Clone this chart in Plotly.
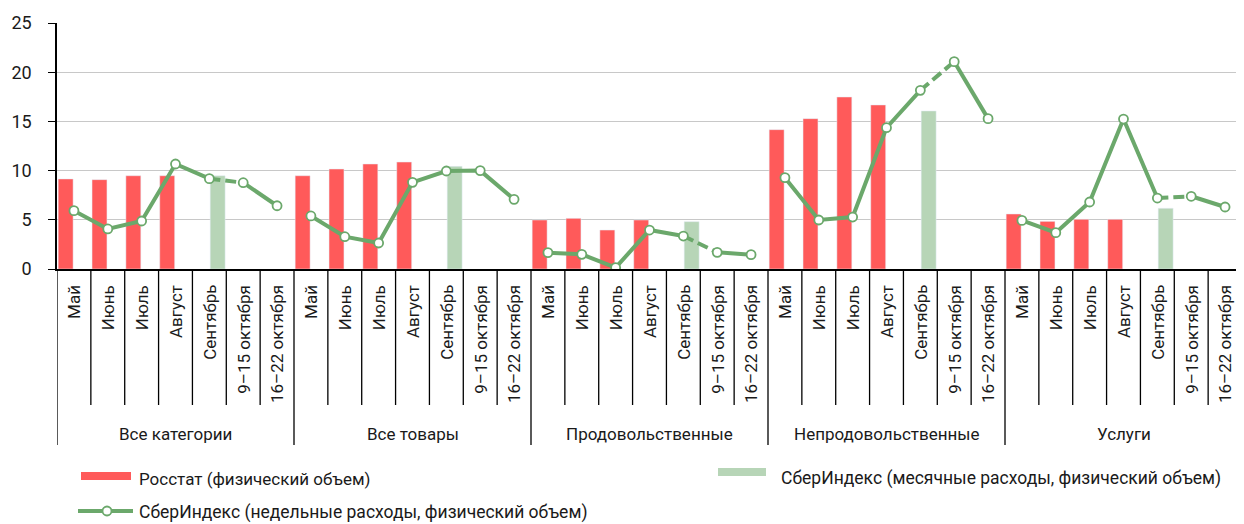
import plotly.graph_objects as go

# ---------------- data ----------------
groups = ["Все категории", "Все товары", "Продовольственные", "Непродовольственные", "Услуги"]
periods = ["Май", "Июнь", "Июль", "Август", "Сентябрь", "9–15 октября", "16–22 октября"]

rosstat = [
    [9.15, 9.08, 9.48, 9.48, None, None, None],
    [9.48, 10.16, 10.67, 10.87, None, None, None],
    [4.98, 5.15, 3.96, 4.98, None, None, None],
    [14.16, 15.28, 17.48, 16.67, None, None, None],
    [5.59, 4.84, 5.05, 5.05, None, None, None],
]
sber_monthly = [
    [None, None, None, None, 9.48, None, None],
    [None, None, None, None, 10.43, None, None],
    [None, None, None, None, 4.81, None, None],
    [None, None, None, None, 16.06, None, None],
    [None, None, None, None, 6.17, None, None],
]
sber_weekly = [
    [5.93, 4.07, 4.88, 10.67, 9.18, 8.77, 6.43],
    [5.39, 3.28, 2.64, 8.81, 9.96, 10.0, 7.08],
    [1.66, 1.49, 0.14, 3.96, 3.35, 1.69, 1.46],
    [9.28, 4.98, 5.28, 14.36, 18.16, 21.07, 15.28],
    [4.94, 3.69, 6.81, 15.24, 7.21, 7.39, 6.30],
]
# whether the Sept -> 9-15 Oct segment is drawn dashed
dashed_link = [True, False, True, True, True]

y_ticks = [0, 5, 10, 15, 20, 25]

legend_names = [
    "Росстат (физический объем)",
    "СберИндекс (месячные расходы, физический объем)",
    "СберИндекс (недельные расходы, физический объем)",
]

# ---------------- styles ----------------
RED = "#FF5A5A"
LIGHTGREEN = "#B7D5B7"
GREEN = "#6BA86B"
FONT = "Roboto"
TXT = "#1a1a1a"
FS = 17

n_p = len(periods)
n_all = len(groups) * n_p
xs = list(range(n_all))

def flat(a):
    return [v for row in a for v in row]

fig = go.Figure()

fig.add_trace(go.Bar(x=xs, y=flat(rosstat), marker_color=RED, showlegend=False,
                     name=legend_names[0]))
fig.add_trace(go.Bar(x=xs, y=flat(sber_monthly), marker_color=LIGHTGREEN, showlegend=False,
                     name=legend_names[1]))

# line segments
sx, sy, dx, dy = [], [], [], []
for g, vals in enumerate(sber_weekly):
    base = g * n_p
    if dashed_link[g]:
        sx += [base + i for i in range(5)] + [None] + [base + 5, base + 6] + [None]
        sy += vals[:5] + [None] + vals[5:] + [None]
        dx += [base + 4, base + 5, None]
        dy += [vals[4], vals[5], None]
    else:
        sx += [base + i for i in range(7)] + [None]
        sy += vals + [None]

fig.add_trace(go.Scatter(x=dx, y=dy, mode="lines", line=dict(color=GREEN, width=4, dash="11px,5px"),
                         showlegend=False, hoverinfo="skip"))
fig.add_trace(go.Scatter(x=sx, y=sy, mode="lines", line=dict(color=GREEN, width=4),
                         showlegend=False, hoverinfo="skip"))
fig.add_trace(go.Scatter(x=xs, y=flat(sber_weekly), mode="markers",
                         marker=dict(color="white", size=9, line=dict(color=GREEN, width=1.8)),
                         showlegend=False, name=legend_names[2]))

# ---------------- geometry helpers (window pixels, page offset 8px) ----------------
OFF = 8
FW, FH = 1236, 516
TOP, BOT = 23 - OFF, 269 - OFF
H = BOT - TOP
L, RIGHT_EDGE = 57 - OFF, 1242 - OFF
PW = RIGHT_EDGE - L

def py(px):  # window pixel y -> paper y
    return (BOT - (px - OFF)) / H

def pxx(px):  # window pixel x -> paper x
    return (px - OFF - L) / PW

shapes = []
annotations = []

# separators
for k in range(n_all + 1):
    is_group = (k % n_p == 0)
    shapes.append(dict(type="line", xref="x", yref="paper", x0=k - 0.5, x1=k - 0.5,
                       y0=0, y1=py(445) if is_group else py(405),
                       line=dict(color="black", width=1.3), layer="above"))

# period labels
for g in range(len(groups)):
    for i, p in enumerate(periods):
        annotations.append(dict(x=g * n_p + i, y=py(283), xref="x", yref="paper",
                                text=p, textangle=-90, showarrow=False,
                                xanchor="center", yanchor="top",
                                font=dict(family=FONT, size=FS, color=TXT)))
    annotations.append(dict(x=g * n_p + (n_p - 1) / 2, y=py(434), xref="x", yref="paper",
                            text=groups[g], showarrow=False, xanchor="center", yanchor="middle",
                            font=dict(family=FONT, size=FS, color=TXT)))

# custom legend
shapes.append(dict(type="rect", xref="paper", yref="paper", x0=pxx(81), x1=pxx(131),
                   y0=py(472), y1=py(480), fillcolor=RED, line=dict(width=0)))
annotations.append(dict(x=pxx(137), y=py(479), xref="paper", yref="paper", text=legend_names[0],
                        showarrow=False, xanchor="left", yanchor="middle",
                        font=dict(family=FONT, size=FS, color=TXT)))
shapes.append(dict(type="rect", xref="paper", yref="paper", x0=pxx(718), x1=pxx(766),
                   y0=py(468), y1=py(476), fillcolor=LIGHTGREEN, line=dict(width=0)))
annotations.append(dict(x=pxx(779), y=py(479), xref="paper", yref="paper", text=legend_names[1],
                        showarrow=False, xanchor="left", yanchor="middle",
                        font=dict(family=FONT, size=FS + 0.5, color=TXT)))
shapes.append(dict(type="line", xref="paper", yref="paper", x0=pxx(78), x1=pxx(133),
                   y0=py(511), y1=py(511), line=dict(color=GREEN, width=4)))
shapes.append(dict(type="circle", xref="paper", yref="paper", xsizemode="pixel", ysizemode="pixel",
                   xanchor=pxx(107), yanchor=py(511), x0=-4.5, x1=4.5, y0=-4.5, y1=4.5,
                   fillcolor="white", line=dict(color=GREEN, width=1.8)))
annotations.append(dict(x=pxx(137), y=py(512), xref="paper", yref="paper", text=legend_names[2],
                        showarrow=False, xanchor="left", yanchor="middle",
                        font=dict(family=FONT, size=FS + 0.5, color=TXT)))

fig.update_layout(
    width=FW, height=FH,
    margin=dict(l=L, r=FW - RIGHT_EDGE, t=TOP, b=FH - BOT, pad=0),
    paper_bgcolor="white", plot_bgcolor="white",
    barmode="group", bargap=0.02, bargroupgap=0.1,
    showlegend=False,
    font=dict(family=FONT, size=FS, color=TXT),
    xaxis=dict(range=[-0.5, n_all - 0.5], showticklabels=False, showgrid=False, zeroline=False,
               showline=True, linecolor="black", linewidth=1.5, ticks=""),
    yaxis=dict(range=[0, 25], tickvals=y_ticks, showgrid=True, gridcolor="#C8C8C8", gridwidth=1.3,
               zeroline=False, showline=True, linecolor="black", linewidth=1.5,
               ticks="outside", ticklen=7, tickcolor="black", tickwidth=1.3,
               ticklabelstandoff=13,
               tickfont=dict(family=FONT, size=FS + 1, color=TXT)),
    shapes=shapes, annotations=annotations,
)

fig.write_html("out.html")
